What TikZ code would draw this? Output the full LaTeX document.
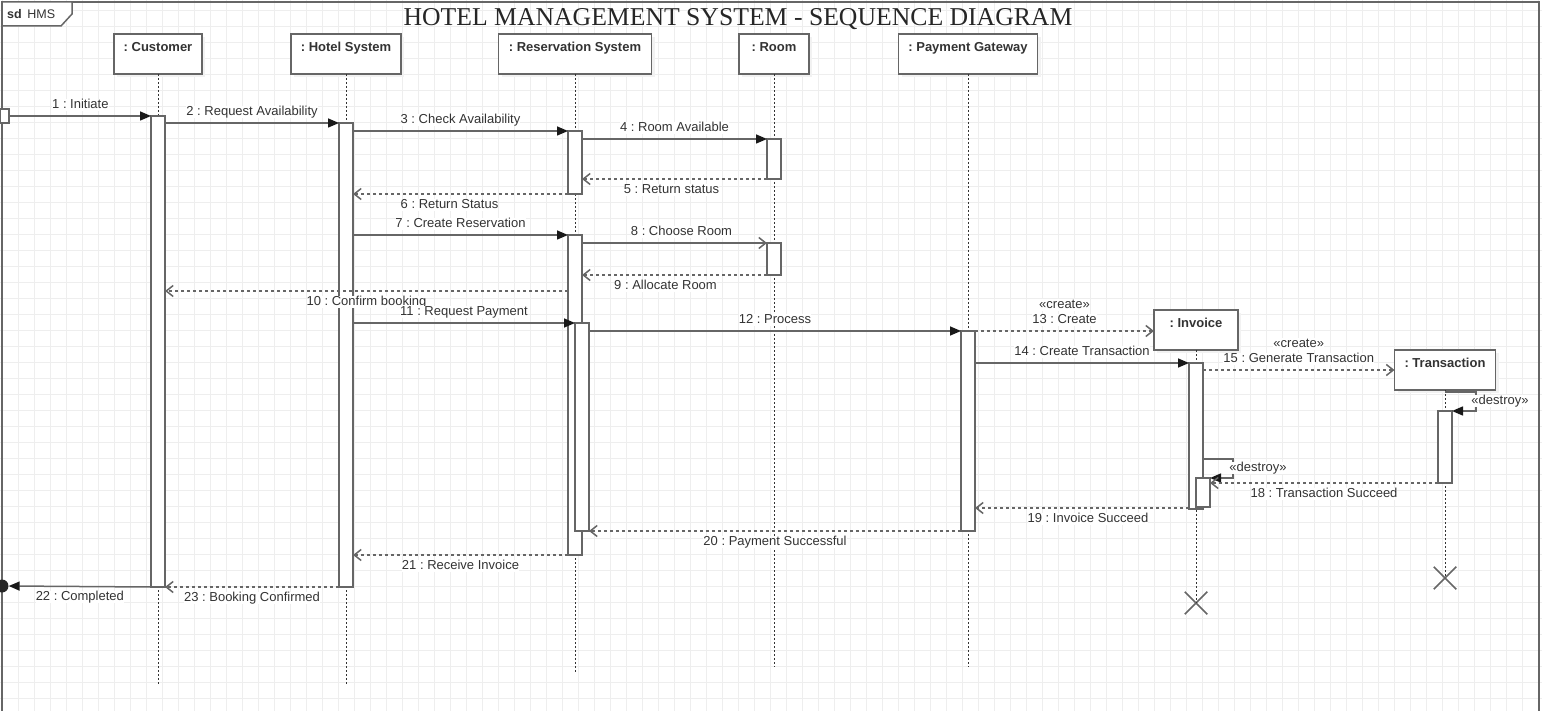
\documentclass[tikz,border=0pt]{standalone}
\usepackage{fontspec}
\setmainfont{Liberation Sans}
\newfontfamily\titlefont{Liberation Serif}
\usetikzlibrary{arrows.meta,shapes.misc,shadows,positioning}
\definecolor{ln}{HTML}{666666}
\definecolor{tx}{HTML}{333333}
\definecolor{gridc}{HTML}{EEEEEE}
\frenchspacing

\begin{document}
\begin{tikzpicture}[x=1pt,y=-1pt,
  font=\fontsize{13}{15}\selectfont, text=tx,
  head/.style={draw=ln, line width=1.5pt, fill=white, inner sep=0pt, outer sep=0pt,
    minimum height=40pt,
    general shadow={fill=black!5, shadow xshift=3pt, shadow yshift=-3pt}},
  hl/.style={anchor=north, inner sep=0pt, yshift=-8pt, text height=9.5pt,
    font=\bfseries\fontsize{13}{15}\selectfont},
  bar/.style={draw=ln, line width=1.5pt, fill=white, minimum width=14pt,
    inner sep=0pt, outer sep=0pt},
  life/.style={draw=black!80, line width=1pt, dash pattern=on 2pt off 2pt},
  call/.style={draw=ln, line width=1.5pt, -{Triangle[length=11pt,width=9pt,color=black!90]}},
  async/.style={draw=ln, line width=1.5pt, -{Straight Barb[length=7pt,width=11pt]}},
  reply/.style={draw=ln, line width=1.5pt, dash pattern=on 3pt off 3pt,
    -{Straight Barb[length=7pt,width=11pt]}},
  lab/.style={fill=white, inner sep=0pt, text height=9.5pt, text depth=2.5pt},
  up/.style={lab, midway, above=4pt},
  down/.style={lab, midway, below=4pt},
  killmark/.style={cross out, draw=ln, line width=1.5pt, minimum size=21pt, inner sep=0pt}
]
\useasboundingbox (0,0) rectangle (1542,711);

% background grid
\foreach \i in {0,...,96}
  \draw[gridc, line width=1pt] (2.7+16*\i,0) -- ++(0,711);
\foreach \j in {0,...,44}
  \draw[gridc, line width=1pt] (0,10.7+16*\j) -- ++(1542,0);

% interaction frame
\draw[ln, line width=2pt] (2,711) -- (2,2) -- (1539,2) -- (1539,711);
\draw[ln, line width=1.5pt, fill=white] (2,2) -- (72,2) -- (72,14) -- (61,26) -- (2,26) -- cycle;
\node[anchor=west, inner sep=0pt, font=\fontsize{12.5}{14}\selectfont] (sd) at (7,14) {\textbf{sd}\, HMS};

\node[font=\titlefont\fontsize{25.7}{28}\selectfont, text=black!85, inner sep=0pt] (title) at (738,19)
  {HOTEL MANAGEMENT SYSTEM - SEQUENCE DIAGRAM};

% lifeline heads
\node[head, minimum width=88pt,  label={[hl]north:{: Customer}}]           (cust)  at (158,54)   {};
\node[head, minimum width=110pt, label={[hl]north:{: Hotel System}}]       (hot)   at (346,54)   {};
\node[head, minimum width=153pt, label={[hl]north:{: Reservation System}}] (res)   at (575,54)   {};
\node[head, minimum width=70pt,  label={[hl]north:{: Room}}]               (room)  at (774,54)   {};
\node[head, minimum width=139pt, label={[hl]north:{: Payment Gateway}}]    (pay)   at (968,54)   {};
\node[head, minimum width=84pt,  label={[hl]north:{: Invoice}}]            (inv)   at (1196,330) {};
\node[head, minimum width=101pt, label={[hl]north:{: Transaction}}]        (trans) at (1445,370) {};

% lifeline ends
\coordinate (custEnd) at (158,685);
\coordinate (hotEnd)  at (346,685);
\coordinate (resEnd)  at (575,672);
\coordinate (roomEnd) at (774,667);
\coordinate (payEnd)  at (968,667);
\node[killmark] (xInv)   at (1196,603) {};
\node[killmark] (xTrans) at (1445,578) {};

\draw[life] (cust.south)  -- (custEnd);
\draw[life] (hot.south)   -- (hotEnd);
\draw[life] (res.south)   -- (resEnd);
\draw[life] (room.south)  -- (roomEnd);
\draw[life] (pay.south)   -- (payEnd);
\draw[life] (inv.south)   -- (xInv.center);
\draw[life] (trans.south) -- (xTrans.center);

% activation bars
\node[bar, minimum height=471pt] (aC)   at (158,351.5)  {};
\node[bar, minimum height=464pt] (aH)   at (346,355)    {};
\node[bar, minimum height=63pt]  (aR1)  at (575,162.5)  {};
\node[bar, minimum height=320pt] (aR2)  at (575,395)    {};
\node[bar, minimum height=208pt] (aR3)  at (582,427)    {};
\node[bar, minimum height=40pt]  (aM1)  at (774,159)    {};
\node[bar, minimum height=32pt]  (aM2)  at (774,259)    {};
\node[bar, minimum height=200pt] (aP)   at (968,431)    {};
\node[bar, minimum height=146pt] (aI)   at (1196,436)   {};
\node[bar, minimum height=29pt]  (aI2)  at (1203,492.5) {};
\node[bar, minimum height=72pt]  (aT)   at (1445,447)   {};

% gates on the frame
\node[draw=ln, line width=1.5pt, fill=white, minimum width=9pt, minimum height=14pt,
  inner sep=0pt] (gIn) at (4.5,116) {};
\node[circle, fill=black!85, minimum size=13pt, inner sep=0pt] (gOut) at (2,586) {};

% messages
\draw[call]  (gIn.east) -- (aC.north west) node[up] {1 : Initiate};
\draw[call]  (aC.east |- aH.north) -- (aH.north west) node[up] {2 : Request Availability};
\draw[call]  (aH.east |- aR1.north) -- (aR1.north west) node[up] {3 : Check Availability};
\draw[call]  (aR1.east |- aM1.north) -- (aM1.north west) node[up] {4 : Room Available};
\draw[reply] (aM1.south west) -- (aR1.east |- aM1.south) node[down, xshift=-3pt] {5 : Return status};
\draw[reply] (aR1.south west) -- (aH.east |- aR1.south) node[down, xshift=-11pt] {6 : Return Status};
\draw[call]  (aH.east |- aR2.north) -- (aR2.north west) node[up] {7 : Create Reservation};
\draw[async] (aR2.east |- aM2.north) -- (aM2.north west) node[up, xshift=7pt] {8 : Choose Room};
\draw[reply] (aM2.south west) -- (aR2.east |- aM2.south) node[down, xshift=-9pt] {9 : Allocate Room};
\draw[reply] (aR2.west |- 0,291) -- (aC.east |- 0,291) node[down] {10 : Confirm booking};
\draw[call]  (aH.east |- aR3.north) -- (aR3.north west) node[up] {11 : Request Payment};
\draw[call]  (aR3.east |- aP.north) -- (aP.north west) node[up] {12 : Process};
\draw[reply] (aP.north east) -- (inv.west |- aP.north)
  node[up] (c13) {13 : Create}
  node[lab, above=2pt of c13] {«create»};
\draw[call]  (aP.east |- aI.north) -- (aI.north west) node[up] {14 : Create Transaction};
\draw[reply] (aI.east |- trans.west) -- (trans.west)
  node[up] (c15) {15 : Generate Transaction}
  node[lab, above=2pt of c15] {«create»};
\draw[call]  ([yshift=-2pt]trans.south) -- ++(31,0) |- (aT.north east);
\node[lab] (d16) at (1500,401) {«destroy»};
\draw[call]  (aI.east |- 0,459) -- ++(30,0) |- (aI2.north east);
\node[lab] (d17) at (1258,468) {«destroy»};
\draw[reply] (aT.south west) -- (aI2.east |- aT.south) node[down] {18 : Transaction Succeed};
\draw[reply] (aI.west |- 0,508) -- (aP.east |- 0,508) node[down, xshift=6pt] {19 : Invoice Succeed};
\draw[reply] (aP.south west) -- (aR3.south east) node[down] {20 : Payment Successful};
\draw[reply] (aR2.south west) -- (aH.east |- aR2.south) node[down] {21 : Receive Invoice};
\draw[call]  (aC.south west) -- (gOut.east) node[down] {22 : Completed};
\draw[reply] (aH.south west) -- (aC.east |- aH.south) node[down] {23 : Booking Confirmed};

\end{tikzpicture}
\end{document}
